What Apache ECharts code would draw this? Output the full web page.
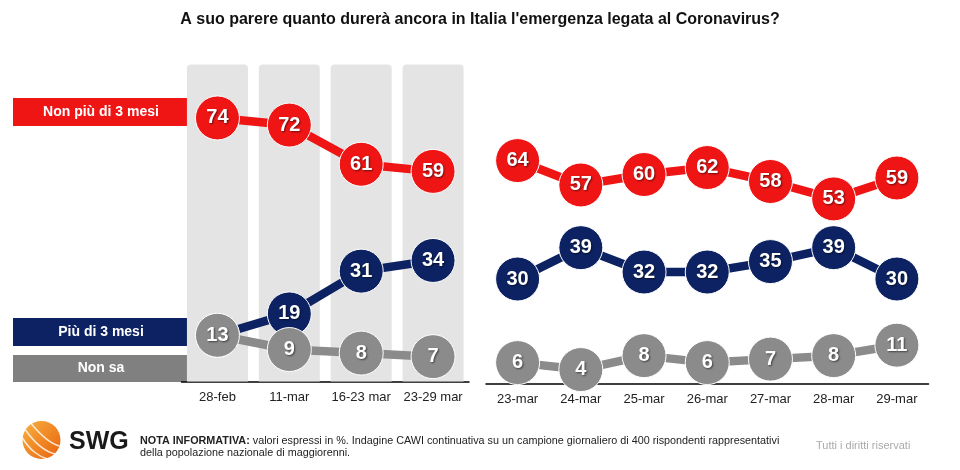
<!DOCTYPE html>
<html>
<head>
<meta charset="utf-8">
<script src="https://cdn.jsdelivr.net/npm/echarts@6/dist/echarts.min.js"></script>
<style>
html,body{margin:0;padding:0;background:#fff;}
#chart{width:960px;height:470px;}
</style>
</head>
<body>
<div id="chart"></div>
<script>
// ---- data ----
var title = "A suo parere quanto durerà ancora in Italia l'emergenza legata al Coronavirus?";
var seriesNames = ["Non più di 3 mesi", "Più di 3 mesi", "Non sa"];
var leftCategories = ["28-feb", "11-mar", "16-23 mar", "23-29 mar"];
var rightCategories = ["23-mar", "24-mar", "25-mar", "26-mar", "27-mar", "28-mar", "29-mar"];
var leftNonPiu = [74, 72, 61, 59];
var leftPiu = [13, 19, 31, 34];
var leftNonSa = [13, 9, 8, 7];
var rightNonPiu = [64, 57, 60, 62, 58, 53, 59];
var rightPiu = [30, 39, 32, 32, 35, 39, 30];
var rightNonSa = [6, 4, 8, 6, 7, 8, 11];
var noteBold = "NOTA INFORMATIVA:";
var noteText1 = " valori espressi in %. Indagine CAWI continuativa su un campione giornaliero di 400 rispondenti rappresentativi";
var noteText2 = "della popolazione nazionale di maggiorenni.";
var rights = "Tutti i diritti riservati";

// ---- style ----
var RED = '#ef1515', NAVY = '#0c2262', GREY = '#8b8b8b', GREYBOX = '#808080';
var leftMax = 89;

var chart = echarts.init(document.getElementById('chart'), null, {renderer: 'canvas'});

function lineSeries(name, data, color, xi, z) {
  return {
    name: name, type: 'line', xAxisIndex: xi, yAxisIndex: xi, data: data,
    symbol: 'circle', symbolSize: 44, z: z,
    lineStyle: {color: color, width: 8.5},
    itemStyle: {color: color, borderColor: '#fff', borderWidth: 1},
    label: {
      show: true, position: 'inside', color: '#fff', fontSize: 20, fontWeight: 'bold',
      fontFamily: 'Liberation Sans, Arial, sans-serif',
      textShadowColor: 'rgba(0,0,0,0.55)', textShadowBlur: 2, textShadowOffsetX: 1, textShadowOffsetY: 1
    },
    emphasis: {disabled: true},
    animation: false
  };
}

var bgData = leftCategories.map(function(){ return leftMax; });

var axisLabelStyle = {color: '#222', fontSize: 13, fontFamily: 'Liberation Sans, Arial, sans-serif', margin: 9, interval: 0};

var option = {
  animation: false,
  backgroundColor: '#fff',
  title: {
    text: title, left: 'center', top: 7,
    textStyle: {fontSize: 16, fontWeight: 'bold', color: '#111', fontFamily: 'Liberation Sans, Arial, sans-serif'}
  },
  grid: [
    {left: 181.5, width: 287.5, top: 64.5, bottom: 88.4},
    {left: 486, width: 442.5, top: 35.2, bottom: 86.5}
  ],
  xAxis: [
    {type: 'category', gridIndex: 0, data: leftCategories, boundaryGap: true,
     axisLine: {lineStyle: {color: '#000', width: 1.5}}, axisTick: {show: false}, axisLabel: axisLabelStyle},
    {type: 'category', gridIndex: 1, data: rightCategories, boundaryGap: true,
     axisLine: {lineStyle: {color: '#000', width: 1.5}}, axisTick: {show: false}, axisLabel: axisLabelStyle}
  ],
  yAxis: [
    {type: 'value', gridIndex: 0, min: 0, max: leftMax, show: false},
    {type: 'value', gridIndex: 1, min: 0, max: 100, show: false}
  ],
  series: [
    {type: 'bar', xAxisIndex: 0, yAxisIndex: 0, data: bgData, barWidth: 61, z: 1,
     itemStyle: {color: '#e4e4e4', borderRadius: [4, 4, 0, 0]}, silent: true, animation: false},
    lineSeries(seriesNames[0], leftNonPiu, RED, 0, 3),
    lineSeries(seriesNames[1], leftPiu, NAVY, 0, 4),
    lineSeries(seriesNames[2], leftNonSa, GREY, 0, 5),
    lineSeries(seriesNames[0], rightNonPiu, RED, 1, 3),
    lineSeries(seriesNames[1], rightPiu, NAVY, 1, 4),
    lineSeries(seriesNames[2], rightNonSa, GREY, 1, 5)
  ],
  graphic: [
    // legend boxes
    {type: 'group', left: 13, top: 98, z: 10, children: [
      {type: 'rect', shape: {x: 0, y: 0, width: 175, height: 28}, style: {fill: RED}},
      {type: 'text', x: 88, y: 14, style: {text: seriesNames[0], fill: '#fff', font: 'bold 14px Liberation Sans, Arial, sans-serif', textAlign: 'center', textVerticalAlign: 'middle'}}
    ]},
    {type: 'group', left: 13, top: 318, z: 10, children: [
      {type: 'rect', shape: {x: 0, y: 0, width: 175, height: 28}, style: {fill: NAVY}},
      {type: 'text', x: 88, y: 14, style: {text: seriesNames[1], fill: '#fff', font: 'bold 14px Liberation Sans, Arial, sans-serif', textAlign: 'center', textVerticalAlign: 'middle'}}
    ]},
    {type: 'group', left: 13, top: 355, z: 10, children: [
      {type: 'rect', shape: {x: 0, y: 0, width: 175, height: 27}, style: {fill: GREYBOX}},
      {type: 'text', x: 88, y: 13.5, style: {text: seriesNames[2], fill: '#fff', font: 'bold 14px Liberation Sans, Arial, sans-serif', textAlign: 'center', textVerticalAlign: 'middle'}}
    ]},
    // logo
    {type: 'group', left: 20, top: 421, z: 10, children: [
      {type: 'circle', shape: {cx: 20, cy: 20, r: 19},
       style: {fill: new echarts.graphic.LinearGradient(0, 0, 1, 1, [{offset: 0, color: '#f8b040'}, {offset: 1, color: '#e8620c'}])}},
      {type: 'bezierCurve', shape: {x1: 4, y1: 10, x2: 34, y2: 34, cpx1: 14, cpy1: 24, cpx2: 24, cpy2: 32}, style: {stroke: 'rgba(255,255,255,0.8)', lineWidth: 1.5, fill: null}},
      {type: 'bezierCurve', shape: {x1: 10, y1: 4, x2: 38, y2: 26, cpx1: 20, cpy1: 16, cpx2: 30, cpy2: 24}, style: {stroke: 'rgba(255,255,255,0.8)', lineWidth: 1.5, fill: null}},
      {type: 'bezierCurve', shape: {x1: 1, y1: 18, x2: 26, y2: 39, cpx1: 8, cpy1: 30, cpx2: 18, cpy2: 37}, style: {stroke: 'rgba(255,255,255,0.8)', lineWidth: 1.5, fill: null}}
    ]},
    {type: 'text', left: 69, top: 430, z: 10,
     style: {text: 'SWG', fill: '#1a1a1a', font: 'bold 25px Liberation Sans, Arial, sans-serif'}},
    {type: 'text', left: 140, top: 435, z: 10,
     style: {
       text: '{b|' + noteBold + '}' + noteText1 + '\n' + noteText2,
       fill: '#222', font: '10.8px Liberation Sans, Arial, sans-serif', lineHeight: 12,
       rich: {b: {fontWeight: 'bold', fontSize: 10.8, fontFamily: 'Liberation Sans, Arial, sans-serif', fill: '#222', lineHeight: 12}}
     }},
    {type: 'text', left: 816, top: 440, z: 10,
     style: {text: rights, fill: '#aaa', font: '11px Liberation Sans, Arial, sans-serif'}}
  ]
};
chart.setOption(option);
</script>
</body>
</html>
